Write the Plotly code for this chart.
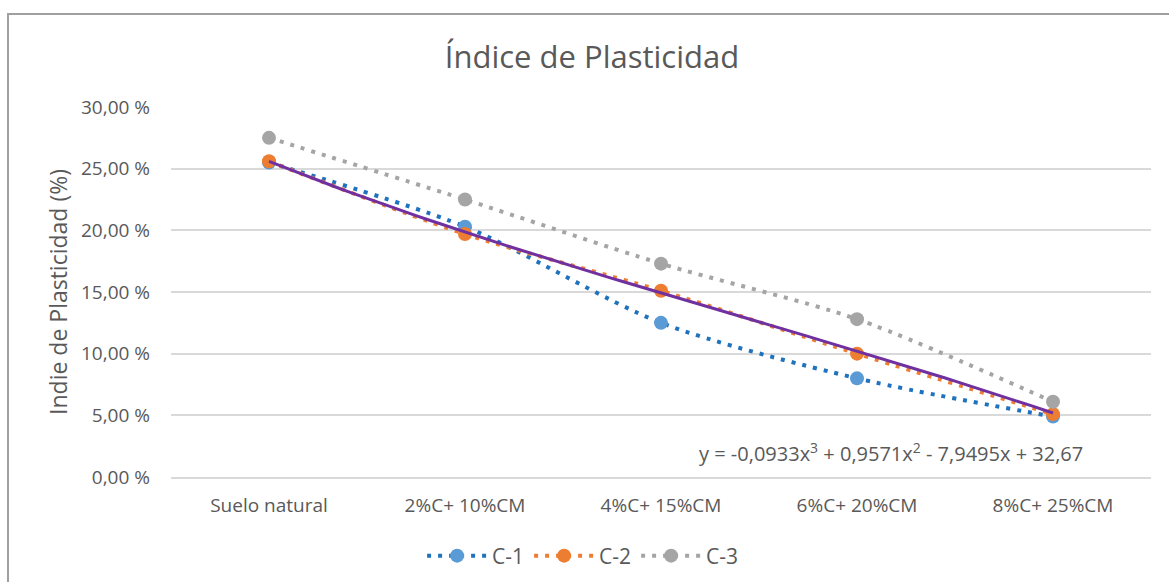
import plotly.graph_objects as go

categories = ["Suelo natural", "2%C+ 10%CM", "4%C+ 15%CM", "6%C+ 20%CM", "8%C+ 25%CM"]
c1 = [25.5, 20.3, 12.5, 8.0, 4.9]
c2 = [25.6, 19.7, 15.1, 10.0, 5.1]
c3 = [27.5, 22.5, 17.3, 12.8, 6.1]
trend_coef = [-0.0933, 0.9571, -7.9495, 32.67]  # cubic trendline on C-2
y_ticks = [0, 5, 10, 15, 20, 25, 30]
y_ticktext = ["0,00 %", "5,00 %", "10,00 %", "15,00 %", "20,00 %", "25,00 %", "30,00 %"]

FONT = "Open Sans"
GRAY = "#595959"

# trendline evaluated on a fine grid of category index 1..5
n_pts = 81
xs_idx = [1 + 4 * i / (n_pts - 1) for i in range(n_pts)]
trend_y = [trend_coef[0] * t**3 + trend_coef[1] * t**2 + trend_coef[2] * t + trend_coef[3] for t in xs_idx]
trend_x = [t - 1 for t in xs_idx]

xidx = list(range(len(categories)))

fig = go.Figure()
series = [
    ("C-1", c1, "#1F72BE", "#5B9BD5"),
    ("C-2", c2, "#ED7D31", "#ED7D31"),
    ("C-3", c3, "#A5A5A5", "#A5A5A5"),
]
for name, vals, lc, mc in series:
    fig.add_trace(go.Scatter(
        x=xidx, y=vals, name=name, mode="lines+markers",
        line=dict(color=lc, width=4, dash="4px,7px", shape="spline", smoothing=0.8),
        marker=dict(color=mc, size=14),
    ))

fig.add_trace(go.Scatter(
    x=trend_x, y=trend_y, mode="lines", showlegend=False,
    line=dict(color="#7030A0", width=3), hoverinfo="skip",
))

fig.add_annotation(
    x=(891 - 171) / 980, y=(452 - 477) / -370, xref="paper", yref="paper",
    text="y = -0,0933x<sup>3</sup> + 0,9571x<sup>2</sup> - 7,9495x + 32,67",
    showarrow=False, xanchor="center", yanchor="middle",
    font=dict(family=FONT, size=20, color=GRAY),
)

fig.add_shape(type="rect", xref="paper", yref="paper",
              x0=(8 - 171) / 980, x1=1.1, y0=-0.5, y1=(477 - 14) / 370,
              line=dict(color="#A0A0A0", width=2), layer="below")

fig.update_layout(
    width=1169, height=582,
    margin=dict(l=171, r=18, t=107, b=105, autoexpand=False),
    paper_bgcolor="white", plot_bgcolor="white",
    title=dict(text="Índice de Plasticidad", x=592 / 1169, xanchor="center", y=1 - 57 / 582, yanchor="middle",
               font=dict(family=FONT, size=31, color=GRAY)),
    font=dict(family=FONT, color=GRAY),
    showlegend=True,
    legend=dict(orientation="h", x=0.42, xanchor="center", y=-(556 - 477) / 370, yanchor="middle",
                font=dict(family=FONT, size=21, color=GRAY), itemwidth=60),
    xaxis=dict(range=[-0.5, 4.5], tickvals=xidx, ticktext=categories, showgrid=False,
               zeroline=False, showline=True, linecolor="#D9D9D9", linewidth=1.5,
               tickfont=dict(family=FONT, size=19, color=GRAY), ticks="", ticklabelstandoff=10),
    yaxis=dict(range=[0, 30], tickvals=y_ticks, ticktext=y_ticktext,
               showgrid=True, gridcolor="#D9D9D9", gridwidth=1.5, zeroline=False,
               tickfont=dict(family=FONT, size=19, color=GRAY), ticks="", ticklabelstandoff=20,
               title=dict(text="Indie de Plasticidad (%)", font=dict(family=FONT, size=23, color=GRAY),
                          standoff=6)),
)

fig.write_html("out.html")
